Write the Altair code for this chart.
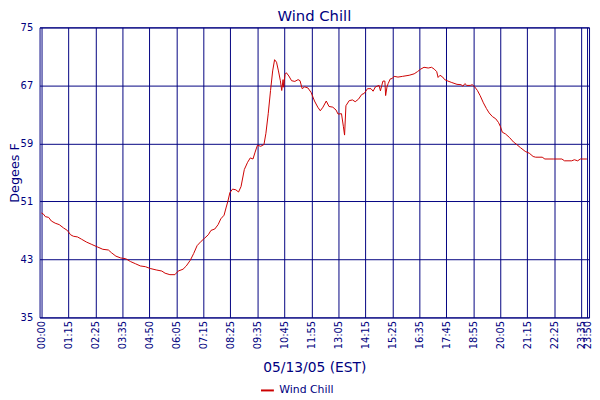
import altair as alt
import pandas as pd

# Tick labels (one every 14 samples of ~5 min; last at sample 283)
TICK_POS = [0, 14, 28, 42, 56, 70, 84, 98, 112, 126, 140, 154, 168, 182, 196,
            210, 224, 238, 252, 266, 280, 283]
TICK_LABELS = ["00:00", "01:15", "02:25", "03:35", "04:50", "06:05", "07:15",
               "08:25", "09:35", "10:45", "11:55", "13:05", "14:15", "15:25",
               "16:35", "17:45", "18:55", "20:05", "21:15", "22:25", "23:35",
               "23:50"]
Y_TICKS = [35, 43, 51, 59, 67, 75]

# Wind chill readings (sample position, degrees F)
SAMPLE = [0.0, 1.0, 2.0, 3.7, 5.1, 7.1, 9.2, 11.4, 13.4, 15.1, 16.5, 18.7, 20.7,
          23.3, 25.8, 29.2, 31.8, 34.7, 36.4, 38.6, 41.1, 43.7, 46.2, 48.8,
          51.3, 53.9, 56.4, 59.5, 62.4, 64.1, 66.6, 69.2, 70.9, 73.4, 75.1,
          77.2, 78.9, 80.7, 82.8, 84.5, 86.5, 87.9, 89.9, 91.6, 93.0, 94.7,
          95.7, 96.7, 97.7, 99.1, 100.8, 102.2, 103.5, 105.2, 106.9, 108.3,
          109.7, 110.8, 112.0, 113.7, 115.4, 116.4, 117.6, 118.8, 119.9, 120.9,
          121.9, 122.9, 123.9, 124.6, 125.3, 125.6, 126.3, 127.0, 128.3, 129.7,
          131.4, 133.1, 134.1, 135.2, 136.5, 138.2, 139.9, 141.6, 143.3, 144.6,
          146.0, 147.7, 149.1, 151.1, 152.8, 153.8, 155.6, 156.6, 157.2, 157.9,
          159.6, 161.3, 162.7, 164.4, 166.1, 167.4, 169.1, 170.9, 172.0, 173.2,
          175.1, 175.8, 176.5, 177.1, 178.1, 178.5, 179.2, 179.8, 180.9, 181.9,
          182.9, 184.9, 187.3, 190.7, 193.3, 195.0, 196.7, 198.4, 200.6, 202.3,
          203.7, 205.0, 205.7, 206.7, 208.1, 209.1, 210.8, 212.8, 215.5, 217.6,
          218.6, 219.6, 220.6, 222.4, 223.4, 224.7, 226.1, 227.5, 229.2, 230.8,
          232.2, 233.9, 235.6, 237.0, 238.0, 239.0, 240.7, 242.8, 244.8, 246.5,
          248.5, 250.9, 253.0, 255.0, 256.3, 259.7, 261.1, 265.5, 269.9, 271.3,
          275.0, 276.4, 278.1, 279.5, 282.9]
WIND_CHILL = [49.4, 49.25, 48.9, 48.8, 48.3, 48.0, 47.8, 47.35, 47.0, 46.4, 46.2,
              46.1, 45.8, 45.4, 45.1, 44.7, 44.4, 44.3, 43.9, 43.45, 43.2, 43.1,
              42.7, 42.4, 42.1, 42.0, 41.75, 41.55, 41.4, 41.1, 40.9, 40.9, 41.4,
              41.65, 42.1, 42.9, 43.8, 44.9, 45.5, 45.9, 46.4, 47.0, 47.2, 47.8,
              48.6, 49.1, 50.1, 51.05, 52.2, 52.7, 52.6, 52.3, 53.05, 55.4, 56.4,
              57.0, 56.85, 57.8, 58.75, 58.6, 58.85, 60.4, 63.1, 66.3, 69.0,
              70.55, 70.2, 69.0, 67.65, 66.3, 67.8, 66.75, 68.5, 68.75, 68.3,
              67.65, 67.55, 67.8, 67.65, 66.55, 66.8, 66.65, 66.0, 64.85, 64.0,
              63.5, 64.0, 64.85, 64.1, 64.0, 63.6, 63.05, 63.1, 61.3, 60.15,
              64.2, 64.9, 65.0, 64.75, 65.1, 65.75, 65.9, 66.55, 66.55, 66.2,
              66.8, 67.0, 66.25, 67.0, 67.6, 67.6, 65.6, 66.8, 67.25, 67.9,
              67.95, 68.25, 68.15, 68.25, 68.4, 68.6, 68.9, 69.25, 69.5, 69.4,
              69.5, 69.25, 68.9, 68.1, 68.4, 68.15, 67.8, 67.6, 67.4, 67.15,
              67.1, 66.9, 67.25, 67.0, 67.0, 67.1, 66.8, 66.3, 65.6, 64.6, 63.8,
              63.2, 62.7, 62.4, 61.9, 61.35, 60.55, 60.3, 59.8, 59.2, 58.85,
              58.4, 57.9, 57.65, 57.2, 57.1, 57.1, 56.85, 56.85, 56.85, 56.6,
              56.6, 56.75, 56.6, 56.85, 56.85]
SERIES = "Wind Chill"

NAVY = "#000080"
RED = "#cc0000"
FONT = "DejaVu Sans"

df = pd.DataFrame({"sample": SAMPLE, "value": WIND_CHILL, "series": SERIES})

label_list = "[" + ",".join("'" + t + "'" for t in TICK_LABELS[:-1]) + "]"
label_expr = ("datum.value >= 283 ? '" + TICK_LABELS[-1] + "' : "
              + label_list + "[round(datum.value / 14)]")

chart = alt.Chart(df).mark_line(strokeWidth=1).encode(
    x=alt.X("sample:Q",
            scale=alt.Scale(domain=[-1, 284], nice=False, zero=False),
            axis=alt.Axis(values=TICK_POS, labelExpr=label_expr,
                          title="05/13/05 (EST)", labelAngle=270,
                          labelAlign="right", labelBaseline="middle",
                          labelOverlap=False, labelFlush=False,
                          labelPadding=3, ticks=False, domain=False,
                          grid=True, gridColor=NAVY, gridOpacity=1,
                          labelFontSize=10, titleFontSize=14,
                          titleBaseline="alphabetic", titleY=55,
                          titleFontWeight="normal")),
    y=alt.Y("value:Q",
            scale=alt.Scale(domain=[35, 75], nice=False, zero=False),
            axis=alt.Axis(values=Y_TICKS, title="Degees F", ticks=False,
                          domain=False, grid=True, gridColor=NAVY,
                          gridOpacity=1, labelPadding=7, labelFontSize=10,
                          titleFontSize=13, titleAngle=270,
                          titleBaseline="alphabetic", titleX=-21,
                          titleFontWeight="normal")),
    color=alt.Color("series:N",
                    scale=alt.Scale(domain=[SERIES], range=[RED]),
                    legend=alt.Legend(title=None, orient="none",
                                      legendX=223, legendY=360,
                                      symbolType="stroke",
                                      symbolStrokeWidth=2, symbolSize=170,
                                      labelFontSize=11, labelColor=NAVY,
                                      labelOffset=4)),
).properties(
    width=557,
    height=294,
    title=alt.TitleParams("Wind Chill", fontSize=15, color=NAVY, font=FONT,
                          fontWeight="normal", anchor="middle",
                          offset=-2, frame="group"),
    autosize=alt.AutoSizeParams(type="none"),
    padding={"left": 32, "top": 17, "right": 3, "bottom": 80},
).configure_view(
    stroke=NAVY, strokeWidth=1
).configure_axis(
    labelColor=NAVY, titleColor=NAVY, labelFont=FONT, titleFont=FONT,
    gridWidth=1
).configure_legend(
    labelFont=FONT
)

chart.save("out.html", embed_options={"renderer": "svg", "actions": False})
